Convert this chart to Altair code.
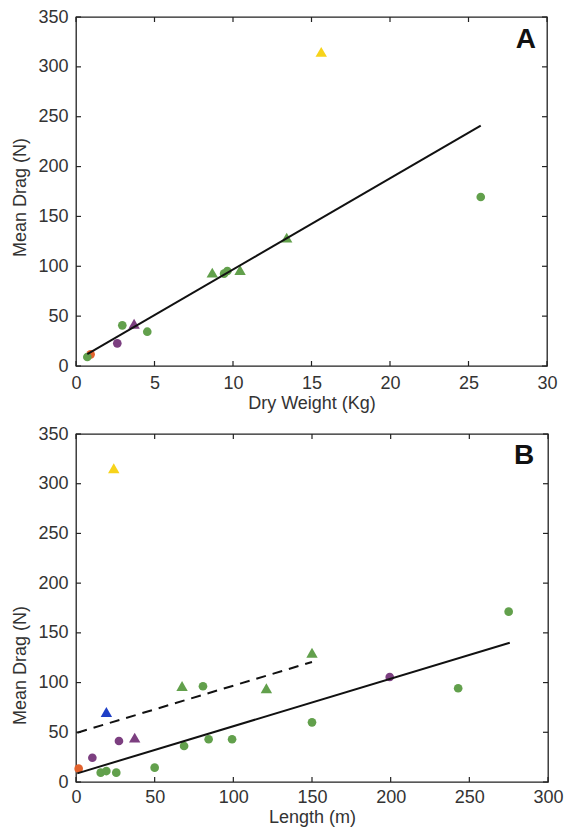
import altair as alt
import pandas as pd

# ---------------- Panel A: Mean drag vs dry weight ----------------
a_x = [0.93, 0.72, 2.63, 2.95, 3.7, 4.54, 8.68, 9.43, 9.64, 10.45, 13.42, 15.62, 25.78]
a_y = [11.7, 9.0, 22.7, 40.8, 42.4, 34.4, 93.6, 92.6, 95.3, 96.3, 128.7, 315.0, 169.5]
a_group = ["orange", "green", "purple", "green", "purple", "green", "green", "green",
           "green", "green", "green", "yellow", "green"]
a_shape = ["circle", "circle", "circle", "circle", "triangle-up", "circle", "triangle-up",
           "circle", "circle", "triangle-up", "triangle-up", "triangle-up", "circle"]
a_fit_x = [0.72, 25.78]
a_fit_y = [12.0, 241.0]

# ---------------- Panel B: Mean drag vs length ----------------
b_x = [1.7, 10.4, 15.7, 19.3, 25.6, 27.3, 19.3, 37.3, 50.0, 68.7, 67.4, 80.7, 84.3,
       99.2, 121.0, 150.0, 150.0, 24.0, 199.4, 242.9, 275.0]
b_y = [13.4, 24.4, 9.4, 11.0, 9.4, 41.2, 70.4, 44.6, 14.4, 36.2, 96.6, 96.3, 43.0,
       43.0, 94.3, 130.0, 60.0, 315.6, 105.6, 94.3, 171.3]
b_group = ["orange", "purple", "green", "green", "green", "purple", "blue", "purple",
           "green", "green", "green", "green", "green", "green", "green", "green",
           "green", "yellow", "purple", "green", "green"]
b_shape = ["circle", "circle", "circle", "circle", "circle", "circle", "triangle-up",
           "triangle-up", "circle", "circle", "triangle-up", "circle", "circle", "circle",
           "triangle-up", "triangle-up", "circle", "triangle-up", "circle", "circle", "circle"]
b_fit_x = [0.8, 275.7]
b_fit_y = [8.7, 140.0]
b_dash_x = [0.8, 150.0]
b_dash_y = [49.6, 120.7]

y_ticks = [0, 50, 100, 150, 200, 250, 300, 350]
a_x_ticks = [0, 5, 10, 15, 20, 25, 30]
b_x_ticks = [0, 50, 100, 150, 200, 250, 300]

group_domain = ["green", "purple", "orange", "yellow", "blue"]
group_range = ["#62a04c", "#7c3f80", "#e2622d", "#f7d31a", "#1f3fc6"]

FONT = "Liberation Sans"
TXT = "#333333"


def panel(xs, ys, groups, shapes, x_dom, x_ticks, x_title, lines, letter, letter_xy,
          w, h, y_title_pos, x_label_pad, x_title_pad):
    pts = pd.DataFrame({"x": xs, "y": ys, "g": groups, "s": shapes})
    xs_scale = alt.Scale(domain=x_dom, nice=False, zero=False)
    ys_scale = alt.Scale(domain=[0, 350], nice=False)

    xax = alt.Axis(values=x_ticks, title=x_title, labelPadding=x_label_pad,
                   titlePadding=x_title_pad,
                   labelFlush=False, domain=False, ticks=False, grid=False,
                   labelFont=FONT, labelFontSize=18, labelColor=TXT,
                   titleFont=FONT, titleFontSize=18, titleColor=TXT,
                   titleFontWeight="normal")
    yax = alt.Axis(values=y_ticks, title="Mean Drag (N)", labelPadding=8,
                   titlePadding=8, titleY=y_title_pos, domain=False, ticks=False,
                   grid=False, labelFont=FONT, labelFontSize=18, labelColor=TXT,
                   titleFont=FONT, titleFontSize=18, titleColor=TXT,
                   titleFontWeight="normal")

    base_pts = alt.Chart(pts).mark_point(filled=True, opacity=1, strokeWidth=0).encode(
        x=alt.X("x:Q", scale=xs_scale, axis=xax),
        y=alt.Y("y:Q", scale=ys_scale, axis=yax),
        color=alt.Color("g:N", scale=alt.Scale(domain=group_domain, range=group_range),
                        legend=None),
        shape=alt.Shape("s:N", scale=None),
        size=alt.condition("datum.s == 'circle'", alt.value(75), alt.value(130)),
    )

    layers = []
    # inward ticks (MATLAB style) on all four sides
    xt = pd.DataFrame({"v": x_ticks})
    yt = pd.DataFrame({"v": y_ticks})
    tick_style = dict(color="#222222", strokeWidth=1.2)
    layers.append(alt.Chart(xt).mark_rule(**tick_style).encode(
        x=alt.X("v:Q", scale=xs_scale), y=alt.value(h), y2=alt.value(h - 5)))
    layers.append(alt.Chart(xt).mark_rule(**tick_style).encode(
        x=alt.X("v:Q", scale=xs_scale), y=alt.value(0), y2=alt.value(5)))
    layers.append(alt.Chart(yt).mark_rule(**tick_style).encode(
        y=alt.Y("v:Q", scale=ys_scale), x=alt.value(0), x2=alt.value(5)))
    layers.append(alt.Chart(yt).mark_rule(**tick_style).encode(
        y=alt.Y("v:Q", scale=ys_scale), x=alt.value(w), x2=alt.value(w - 5)))

    layers.append(base_pts)

    for lx, ly, dash in lines:
        ld = pd.DataFrame({"x": lx, "y": ly})
        kw = dict(color="#111111", strokeWidth=2)
        if dash:
            kw["strokeDash"] = [10, 7]
        layers.append(alt.Chart(ld).mark_line(**kw).encode(
            x=alt.X("x:Q", scale=xs_scale), y=alt.Y("y:Q", scale=ys_scale)))

    lt = pd.DataFrame({"x": [letter_xy[0]], "y": [letter_xy[1]], "t": [letter]})
    layers.append(alt.Chart(lt).mark_text(font=FONT, fontSize=28, fontWeight="bold",
                                          color="#111111", align="center",
                                          baseline="middle").encode(
        x=alt.X("x:Q", scale=xs_scale), y=alt.Y("y:Q", scale=ys_scale), text="t:N"))

    return alt.layer(*layers).properties(width=w, height=h)


chart_a = panel(a_x, a_y, a_group, a_shape, [0, 30], a_x_ticks, "Dry Weight (Kg)",
                [(a_fit_x, a_fit_y, False)], "A", (28.66, 327), 471, 349, 180, 8, 2)
chart_b = panel(b_x, b_y, b_group, b_shape, [0, 300], b_x_ticks, "Length (m)",
                [(b_fit_x, b_fit_y, False), (b_dash_x, b_dash_y, True)], "B",
                (284.8, 328), 472, 348, 231, 6, 2)

chart = alt.vconcat(chart_a, chart_b, spacing=11).properties(
    padding={"left": 11, "top": 7, "right": 0, "bottom": 0},
    background="white"
).configure_view(
    stroke="#222222", strokeWidth=1.3
)

chart.save("out.html", embed_options={"renderer": "svg", "actions": False})
